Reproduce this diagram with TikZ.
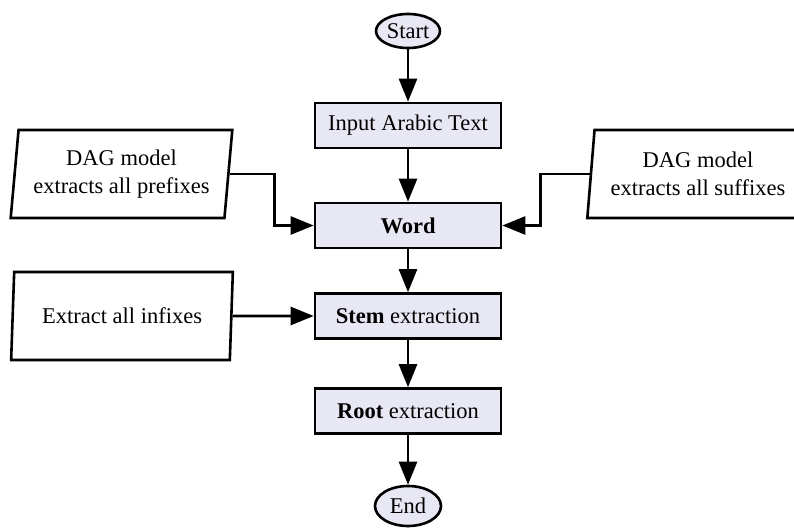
\documentclass[tikz,border=0pt]{standalone}
\usepackage{fontspec}
\setmainfont{Liberation Serif}
\usetikzlibrary{shapes.geometric,arrows.meta}
\definecolor{boxfill}{RGB}{232,232,245}
\begin{document}
\begin{tikzpicture}[x=1pt,y=-1pt,
  txt/.style={font=\fontsize{22.5}{27.5}\selectfont},
  proc/.style={txt,draw,line width=2.6pt,fill=boxfill,minimum width=186pt,minimum height=45pt,inner sep=0pt},
  term/.style={txt,draw,ellipse,line width=2.6pt,fill=boxfill,minimum width=64pt,minimum height=34pt,inner sep=0pt},
  io/.style={txt,draw,trapezium,trapezium left angle=82,trapezium right angle=98,trapezium stretches=true,line width=2.6pt,fill=white,minimum width=222pt,minimum height=88pt,align=center,inner sep=0pt},
  arr/.style={line width=2.6pt,-{Triangle[length=23pt,width=18pt]}}]
\useasboundingbox (0,0) rectangle (794,529);
\node[term] (start) at (408,31) {Start};
\node[proc] (input) at (408,125.5) {Input Arabic Text};
\node[proc] (word) at (408,225.5) {\textbf{Word}};
\node[proc] (stem) at (408,316) {\textbf{Stem} extraction};
\node[proc] (root) at (408,411) {\textbf{Root} extraction};
\node[term,minimum height=40pt,minimum width=66pt] (end) at (408,506) {End};
\node[io] (pre) at (121.5,174) {DAG model\\extracts all prefixes};
\node[io] (suf) at (698,174) {DAG model\\extracts all suffixes};
\node[io] (inf) at (122,316) {Extract all infixes};
\draw[arr] (start) -- (input);
\draw[arr] (input) -- (word);
\draw[arr] (word) -- (stem);
\draw[arr] (stem) -- (root);
\draw[arr] (root) -- (end);
\draw[arr] (pre.east) -- ++(45,0) |- (word.west);
\draw[arr] (suf.west) -- ++(-49,0) |- (word.east);
\draw[arr] (inf.east) -- (stem.west);
\end{tikzpicture}
\end{document}
